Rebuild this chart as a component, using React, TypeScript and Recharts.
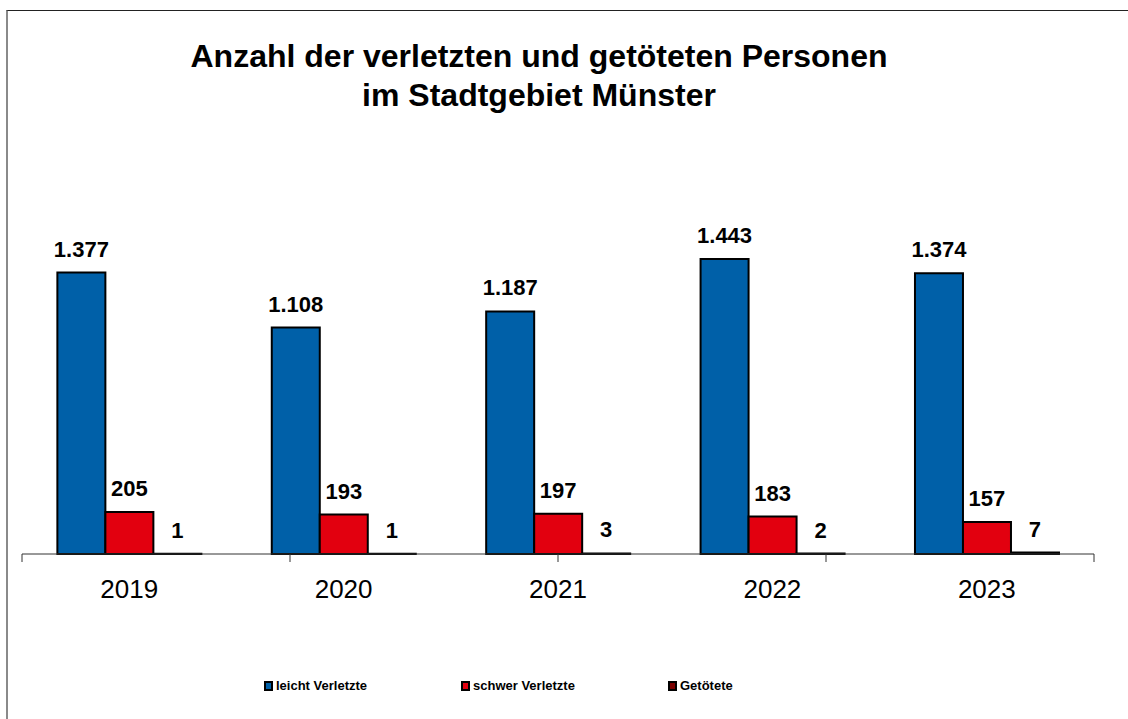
import { BarChart, Bar, XAxis, YAxis, LabelList } from 'recharts';

const years = ['2019', '2020', '2021', '2022', '2023'];
const leichtVerletzte = [1377, 1108, 1187, 1443, 1374];
const schwerVerletzte = [205, 193, 197, 183, 157];
const getoetete = [1, 1, 3, 2, 7];

const SERIES = [
  { key: 'leicht', name: 'leicht Verletzte', color: '#0060a8' },
  { key: 'schwer', name: 'schwer Verletzte', color: '#e2000f' },
  { key: 'tot', name: 'Getötete', color: '#7a0000' },
];

const data = years.map((year, i) => ({
  year,
  leicht: leichtVerletzte[i],
  schwer: schwerVerletzte[i],
  tot: getoetete[i],
}));

const FONT = 'Arial, "Liberation Sans", Helvetica, sans-serif';

function fmt(v: unknown) {
  return String(v).replace(/\B(?=(\d{3})+(?!\d))/g, '.');
}

export default function App() {
  return (
    <div
      style={{
        position: 'fixed',
        left: 0,
        top: 0,
        width: 1128,
        height: 719,
        overflow: 'hidden',
        background: '#fff',
        fontFamily: FONT,
      }}
    >
      <div
        style={{
          position: 'absolute',
          left: 6,
          top: 10,
          width: 1200,
          height: 800,
          borderLeft: '2px solid #8a8a8a',
          borderTop: '1px solid #222',
        }}
      />
      <div
        style={{
          position: 'absolute',
          left: 0,
          width: 1078,
          top: 37,
          textAlign: 'center',
          fontWeight: 'bold',
          fontSize: 32,
          lineHeight: '39px',
          color: '#000',
        }}
      >
        Anzahl der verletzten und getöteten Personen
        <br />
        im Stadtgebiet Münster
      </div>
      <div style={{ position: 'absolute', left: 0, top: 0 }}>
        <BarChart
          width={1128}
          height={719}
          data={data}
          margin={{ top: 227, right: 34, left: 22, bottom: 117 }}
          barCategoryGap="16.5%"
          barGap={0}
        >
          <XAxis
            xAxisId="b"
            dataKey="year"
            height={40}
            axisLine={false}
            tickLine={false}
            tickSize={0}
            tickMargin={18}
            tick={{ fontSize: 26, fill: '#000', fontFamily: FONT }}
          />
          <XAxis
            xAxisId="a"
            type="number"
            domain={[0, 5]}
            ticks={[0, 1, 2, 3, 4, 5]}
            tickFormatter={() => ''}
            tickSize={8}
            height={8}
            axisLine={{ stroke: '#333' }}
            tickLine={{ stroke: '#333' }}
          />
          <YAxis hide domain={[0, 1600]} />
          {SERIES.map((s) => (
            <Bar
              key={s.key}
              xAxisId="b"
              dataKey={s.key}
              name={s.name}
              fill={s.color}
              stroke="#000"
              strokeWidth={2}
              isAnimationActive={false}
            >
              <LabelList
                dataKey={s.key}
                position="top"
                offset={16}
                formatter={fmt}
                style={{ fontSize: 22, fontWeight: 'bold', fill: '#000', fontFamily: FONT }}
              />
            </Bar>
          ))}
        </BarChart>
      </div>
      {SERIES.map((s, i) => (
        <div
          key={s.key}
          style={{
            position: 'absolute',
            left: [264, 461, 668][i],
            top: 678,
            display: 'flex',
            alignItems: 'center',
            fontSize: 13,
            fontWeight: 'bold',
            color: '#000',
          }}
        >
          <span
            style={{
              display: 'inline-block',
              width: 5,
              height: 6,
              background: s.color,
              border: '2px solid #000',
              marginRight: 3,
            }}
          />
          {s.name}
        </div>
      ))}
    </div>
  );
}
